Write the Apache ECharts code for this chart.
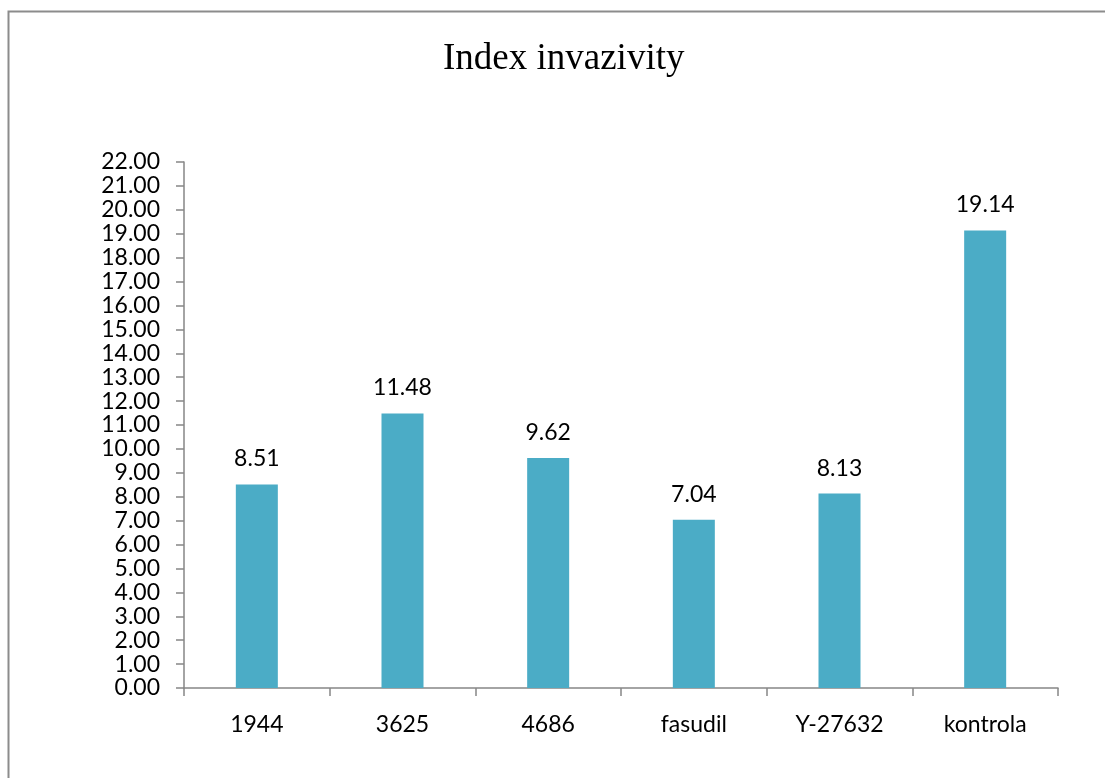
<!DOCTYPE html>
<html><head><meta charset="utf-8">
<script src="https://cdn.jsdelivr.net/npm/echarts@6/dist/echarts.min.js"></script>
<style>html,body{margin:0;padding:0;background:#fff}#c{width:1105px;height:778px}</style>
</head><body><div id="c"></div>
<script>
const categories = ['1944', '3625', '4686', 'fasudil', 'Y-27632', 'kontrola'];
const values = [8.51, 11.48, 9.62, 7.04, 8.13, 19.14];
const yMin = 0, yMax = 22, yStep = 1;
const titleText = 'Index invazivity';

const chart = echarts.init(document.getElementById('c'), null, {renderer: 'canvas'});
const axisColor = '#868686';
chart.setOption({
  animation: false,
  backgroundColor: '#fff',
  title: {
    text: titleText, left: 438, top: 36,
    textStyle: {fontFamily: 'Liberation Serif', fontSize: 37, fontWeight: 'normal', color: '#000'}
  },
  graphic: [{
    type: 'polyline', silent: true,
    shape: {points: [[8.5, 790], [8.5, 11.5], [1110, 11.5]]},
    style: {stroke: '#8c8c8c', lineWidth: 2, fill: null}
  }],
  grid: {left: 184, right: 47, top: 162, bottom: 90},
  xAxis: {
    type: 'category', data: categories,
    axisLine: {lineStyle: {color: axisColor, width: 1.5}},
    axisTick: {show: true, length: 8, lineStyle: {color: axisColor, width: 1.5}},
    axisLabel: {margin: 25, fontFamily: 'Lato', fontSize: 23, color: '#000'}
  },
  yAxis: {
    type: 'value', min: yMin, max: yMax, interval: yStep,
    axisLine: {show: true, lineStyle: {color: axisColor, width: 1.5}},
    axisTick: {show: true, length: 8, lineStyle: {color: axisColor, width: 1.5}},
    splitLine: {show: false},
    axisLabel: {margin: 24, fontFamily: 'Lato', fontSize: 23, color: '#000',
      formatter: v => v.toFixed(2)}
  },
  series: [{
    type: 'bar', data: values, barWidth: 42,
    itemStyle: {color: '#4BACC6'},
    label: {show: true, position: 'top', distance: 14, fontFamily: 'Lato', fontSize: 23, color: '#000',
      formatter: p => p.value.toFixed(2)}
  }]
});
</script></body></html>
